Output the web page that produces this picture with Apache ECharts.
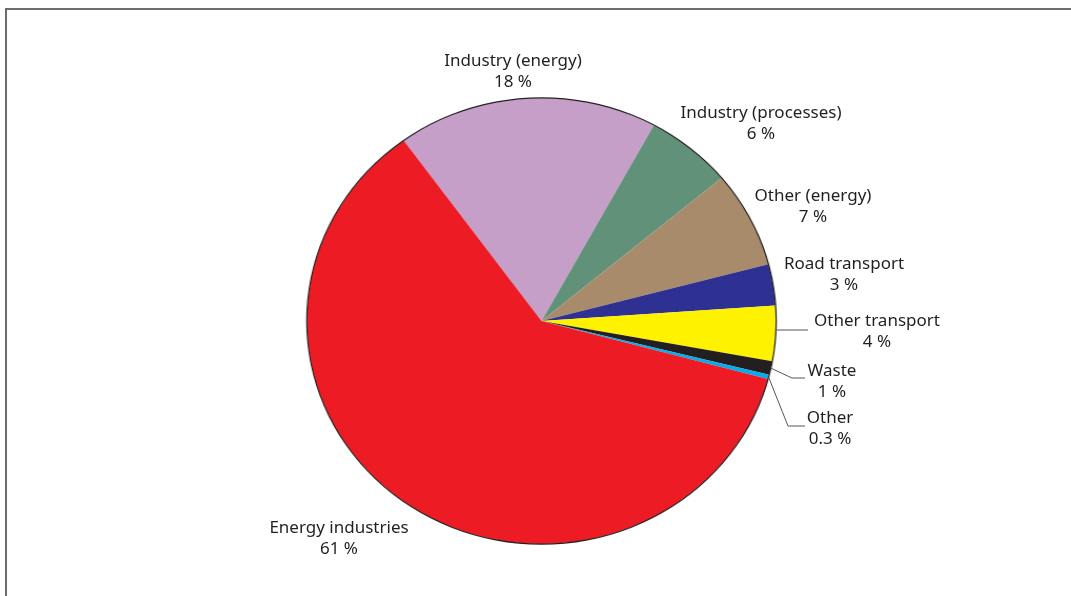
<!DOCTYPE html>
<html>
<head>
<meta charset="utf-8">
<script src="https://cdn.jsdelivr.net/npm/echarts@6/dist/echarts.min.js"></script>
<style>
  html, body { margin: 0; padding: 0; background: #ffffff; }
  #stage { position: relative; width: 1071px; height: 596px; overflow: hidden; }
  #pie, #labels { position: absolute; left: 0; top: 0; width: 1071px; height: 596px; }
  /* the pie is drawn slightly wider than tall */
  #pie { transform: scaleX(1.0516); transform-origin: 541.5px 321px; }
</style>
</head>
<body>
<div id="stage">
  <div id="pie"></div>
  <div id="labels"></div>
</div>
<script>
// Emission sources and their shares (%)
const categories = [
  'Industry (energy)',
  'Industry (processes)',
  'Other (energy)',
  'Road transport',
  'Other transport',
  'Waste',
  'Other',
  'Energy industries'
];
const shares = [18, 6, 7, 3, 4, 1, 0.3, 61];

const palette = ['#c69fc9', '#629179', '#a88b6b', '#2e3192', '#fff200', '#231f20', '#00aeef', '#ed1c24'];

// geometry of the pie
const CX = 541.5, CY = 321, RY = 223, RX = 234.5;
const START = 126;

// label block centres and leader-line elbows
const labelPlace = [
  { at: [513, 72] },
  { at: [761, 124] },
  { at: [813, 207] },
  { at: [844, 275] },
  { at: [877, 332], flatY: 330, end: 808 },
  { at: [832, 382], elbow: [792, 378], end: 805 },
  { at: [830, 429], elbow: [788, 426], end: 805 },
  { at: [339, 539] }
];

const textStyle = {
  fontFamily: '"Noto Sans", Lato, sans-serif',
  fontSize: 17,
  lineHeight: 21,
  color: '#231f20'
};

const pieData = categories.map((name, i) => ({
  name, value: shares[i], itemStyle: { color: palette[i] }
}));

const pieChart = echarts.init(document.getElementById('pie'), null, { renderer: 'canvas' });
pieChart.setOption({
  animation: false,
  series: [
    {
      type: 'pie',
      center: [CX, CY],
      radius: [0, RY],
      startAngle: START,
      clockwise: true,
      silent: true,
      label: { show: false },
      labelLine: { show: false },
      itemStyle: { borderWidth: 0 },
      emphasis: { disabled: true },
      data: pieData
    },
    {
      // outer rim
      type: 'pie',
      center: [CX, CY],
      radius: [RY - 0.4, RY + 0.8],
      silent: true,
      label: { show: false },
      labelLine: { show: false },
      emphasis: { disabled: true },
      itemStyle: { color: '#231f20' },
      data: [{ value: 1, name: 'rim' }]
    }
  ]
});

const labelChart = echarts.init(document.getElementById('labels'), null, { renderer: 'canvas' });
labelChart.setOption({
  animation: false,
  graphic: [
    { type: 'line', shape: { x1: 5, y1: 9, x2: 1071, y2: 9 }, style: { stroke: '#6d6d6d', lineWidth: 2 } },
    { type: 'line', shape: { x1: 6, y1: 8, x2: 6, y2: 596 }, style: { stroke: '#6d6d6d', lineWidth: 2 } }
  ],
  series: [
    {
      type: 'pie',
      center: [CX, CY],
      radius: [0, RX],
      startAngle: START,
      clockwise: true,
      silent: true,
      avoidLabelOverlap: false,
      emphasis: { disabled: true },
      itemStyle: { color: 'rgba(0,0,0,0)' },
      label: Object.assign({
        show: true,
        position: 'outside',
        formatter: p => p.name + '\n' + p.value + ' %',
        align: 'center'
      }, textStyle),
      labelLine: {
        length: 10,
        length2: 10,
        lineStyle: { color: '#555555', width: 1 }
      },
      labelLayout: function (params) {
        const place = labelPlace[params.dataIndex];
        const out = {
          x: place.at[0], y: place.at[1],
          align: 'center', verticalAlign: 'middle'
        };
        const pts = params.labelLinePoints;
        if (pts && (place.elbow || place.flatY)) {
          // anchor on the rim, squeezed to the pie's vertical radius
          const ax = pts[0][0];
          const ay = CY + (pts[0][1] - CY) * RY / RX;
          if (place.flatY) {
            out.labelLinePoints = [[ax + 1, place.flatY], [(ax + place.end) / 2, place.flatY], [place.end, place.flatY]];
          } else {
            out.labelLinePoints = [[ax, ay], place.elbow, [place.end, place.elbow[1]]];
          }
        }
        return out;
      },
      data: categories.map((name, i) => ({
        name, value: shares[i],
        labelLine: { show: !!(labelPlace[i].elbow || labelPlace[i].flatY) }
      }))
    }
  ]
});
</script>
</body>
</html>
